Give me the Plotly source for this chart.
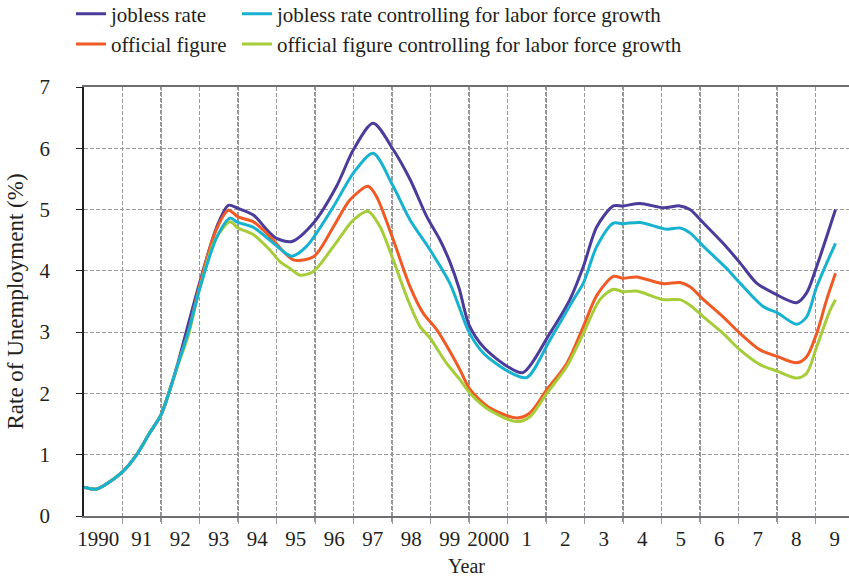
import plotly.graph_objects as go

# ---- data ----
years_labels = ["1990", "91", "92", "93", "94", "95", "96", "97", "98", "99",
                "2000", "1", "2", "3", "4", "5", "6", "7", "8", "9"]

jobless_x = [1990.0, 1990.33, 1991.0, 1991.37, 1991.7, 1992.0, 1992.23, 1992.45, 1992.67,
             1993.0, 1993.45, 1993.75, 1994.0, 1994.4, 1994.75, 1995.0, 1995.4, 1995.96,
             1996.56, 1997.0, 1997.51, 1998.03, 1998.47, 1998.9, 1999.25, 1999.5, 1999.75,
             2000.0, 2000.4, 2001.0, 2001.4, 2002.1, 2002.62, 2002.97, 2003.32, 2003.75,
             2004.0, 2004.44, 2005.05, 2005.48, 2005.74, 2006.09, 2006.6, 2007.04, 2007.47,
             2007.9, 2008.51, 2008.77, 2009.03, 2009.52]
jobless_y = [0.47, 0.44, 0.72, 1.0, 1.35, 1.65, 2.06, 2.52, 3.04,
             3.8, 4.72, 5.07, 5.02, 4.91, 4.67, 4.53, 4.48, 4.78,
             5.38, 5.98, 6.41, 5.98, 5.49, 4.89, 4.5, 4.15, 3.7,
             3.12, 2.74, 2.44, 2.34, 2.98, 3.53, 4.07, 4.72, 5.06,
             5.06, 5.1, 5.03, 5.06, 5.0, 4.78, 4.45, 4.13, 3.8,
             3.64, 3.48, 3.64, 4.07, 5.0]

jobless_ctrl_x = [1990.0, 1990.33, 1991.0, 1991.37, 1991.7, 1992.0, 1992.23, 1992.45, 1992.71,
                  1993.0, 1993.45, 1993.79, 1994.0, 1994.4, 1994.83, 1995.39, 1995.78, 1996.48,
                  1997.0, 1997.51, 1998.03, 1998.47, 1998.99, 1999.5, 1999.75, 2000.0, 2000.37,
                  2001.02, 2001.5, 2002.1, 2002.71, 2002.97, 2003.32, 2003.75, 2004.0, 2004.44,
                  2005.13, 2005.48, 2005.74, 2006.09, 2006.69, 2007.04, 2007.64, 2008.02,
                  2008.51, 2008.77, 2009.03, 2009.52]
jobless_ctrl_y = [0.47, 0.44, 0.72, 1.0, 1.35, 1.65, 2.06, 2.5, 3.0,
                  3.7, 4.55, 4.86, 4.79, 4.71, 4.5, 4.24, 4.4, 5.05,
                  5.6, 5.92, 5.38, 4.83, 4.34, 3.8, 3.4, 3.0, 2.66,
                  2.36, 2.26, 2.87, 3.53, 3.8, 4.4, 4.78, 4.77, 4.79,
                  4.68, 4.7, 4.62, 4.4, 4.04, 3.8, 3.42, 3.31,
                  3.13, 3.25, 3.74, 4.45]

official_x = [1990.0, 1990.33, 1991.0, 1991.37, 1991.7, 1992.0, 1992.23, 1992.45, 1992.71,
              1993.0, 1993.4, 1993.75, 1994.0, 1994.4, 1994.83, 1995.44, 1995.96, 1996.48,
              1996.91, 1997.38, 1997.6, 1998.03, 1998.47, 1998.81, 1999.16, 1999.51, 1999.77,
              2000.03, 2000.55, 2001.24, 2001.58, 2002.02, 2002.54, 2002.97, 2003.32, 2003.75,
              2004.0, 2004.35, 2005.05, 2005.48, 2005.74, 2006.09, 2006.6, 2007.04, 2007.56,
              2008.02, 2008.51, 2008.77, 2009.03, 2009.29, 2009.52]
official_y = [0.47, 0.44, 0.72, 1.0, 1.35, 1.65, 2.06, 2.5, 3.0,
              3.75, 4.62, 4.99, 4.88, 4.8, 4.56, 4.18, 4.23, 4.72,
              5.16, 5.38, 5.21, 4.51, 3.74, 3.31, 3.04, 2.68, 2.38,
              2.06, 1.76, 1.6, 1.68, 2.06, 2.49, 3.09, 3.6, 3.91,
              3.88, 3.9, 3.79, 3.81, 3.74, 3.53, 3.25, 2.98, 2.71,
              2.6, 2.5, 2.6, 2.98, 3.53, 3.96]

official_ctrl_x = [1990.0, 1990.33, 1991.0, 1991.37, 1991.7, 1992.0, 1992.23, 1992.45, 1992.71,
                   1993.0, 1993.4, 1993.79, 1994.0, 1994.4, 1994.83, 1995.09, 1995.35, 1995.61,
                   1995.96, 1996.48, 1997.0, 1997.38, 1997.69, 1998.03, 1998.38, 1998.73,
                   1998.99, 1999.42, 1999.77, 2000.03, 2000.55, 2001.24, 2001.58, 2002.02,
                   2002.54, 2002.97, 2003.4, 2003.75, 2004.0, 2004.35, 2005.05, 2005.48,
                   2005.74, 2006.09, 2006.6, 2007.04, 2007.56, 2008.02, 2008.51, 2008.77,
                   2009.03, 2009.38, 2009.52]
official_ctrl_y = [0.47, 0.44, 0.72, 1.0, 1.35, 1.65, 2.06, 2.48, 2.95,
                   3.7, 4.5, 4.8, 4.7, 4.59, 4.34, 4.15, 4.04, 3.93,
                   3.99, 4.4, 4.83, 4.97, 4.72, 4.18, 3.58, 3.09,
                   2.9, 2.49, 2.22, 2.0, 1.72, 1.54, 1.62, 2.0,
                   2.44, 2.98, 3.53, 3.7, 3.66, 3.67, 3.53, 3.53,
                   3.44, 3.25, 2.98, 2.71, 2.47, 2.36, 2.25, 2.33,
                   2.76, 3.36, 3.53]

y_ticks = [0, 1, 2, 3, 4, 5, 6, 7]

# ---- styling ----
FONT = "Liberation Serif"
TXT = "#231f20"
C_PURPLE = "#4b3b9a"
C_CYAN = "#16b2d0"
C_ORANGE = "#f05a24"
C_GREEN = "#a6cd39"
GRID_LIGHT = "#9a9a9a"
GRID_DARK = "#2a2627"

fig = go.Figure()

def add(x, y, name, color, legend, rank):
    fig.add_trace(go.Scatter(
        x=x, y=y, name=name, mode="lines",
        line=dict(color=color, width=3, shape="spline", smoothing=0.8),
        legend=legend, legendgroup=name, legendrank=rank,
        hoverinfo="skip",
    ))

add(jobless_x, jobless_y, "jobless rate", C_PURPLE, "legend", 1)
add(official_x, official_y, "official figure", C_ORANGE, "legend", 2)
add(official_ctrl_x, official_ctrl_y, "official figure controlling for labor force growth", C_GREEN, "legend2", 2)
add(jobless_ctrl_x, jobless_ctrl_y, "jobless rate controlling for labor force growth", C_CYAN, "legend2", 1)

grid_years = list(range(1991, 2010))
label_pos = [1990.5 + i for i in range(len(years_labels))]
label_pos[0] = 1990.37

# dark dashed gridlines at even years (drawn over the light ones)
for yr in grid_years:
    if yr % 2 == 0:
        fig.add_shape(type="line", xref="x", yref="paper", x0=yr, x1=yr, y0=-0.014, y1=1,
                      line=dict(color=GRID_DARK, width=1, dash="4px,2px"), layer="below")

legend_common = dict(
    font=dict(family=FONT, size=21, color=TXT),
    bgcolor="rgba(0,0,0,0)", orientation="v", traceorder="grouped",
    tracegroupgap=0, xanchor="left", yanchor="top", itemclick=False,
)

fig.update_layout(
    width=849, height=577,
    margin=dict(l=84, r=0, t=87, b=61, autoexpand=False),
    paper_bgcolor="white", plot_bgcolor="white",
    font=dict(family=FONT, size=21, color=TXT),
    showlegend=True,
    legend=dict(x=-0.017, y=1.218, **legend_common),
    legend2=dict(x=0.2, y=1.218, **legend_common),
    xaxis=dict(
        range=[1990, 2009.87],
        tickmode="array", tickvals=label_pos, ticktext=years_labels,
        ticks="", showgrid=False, zeroline=False, ticklabelstandoff=3,
        showline=True, linecolor="#6d6e71", linewidth=2, mirror=True,
        tickfont=dict(family=FONT, size=21, color=TXT),
        minor=dict(tickmode="array", tickvals=grid_years, ticks="outside", ticklen=6,
                   tickcolor=GRID_LIGHT, tickwidth=1, showgrid=True,
                   gridcolor=GRID_LIGHT, gridwidth=1, griddash="4px,2px"),
        title=dict(text="Year", font=dict(family=FONT, size=20, color=TXT), standoff=9),
        automargin=False, fixedrange=True,
    ),
    yaxis=dict(
        range=[0, 7], tickmode="array", tickvals=y_ticks,
        ticks="outside", ticklen=6, tickcolor=TXT, tickwidth=1,
        showgrid=True, gridcolor=GRID_LIGHT, gridwidth=1, griddash="4px,2px",
        zeroline=False, showline=True, linecolor=TXT, linewidth=1.5,
        ticklabelstandoff=22,
        tickfont=dict(family=FONT, size=21, color=TXT),
        title=dict(text="Rate of Unemployment (%)", font=dict(family=FONT, size=23, color=TXT), standoff=9),
        automargin=False, fixedrange=True,
    ),
)

fig.write_html("out.html", config={"displayModeBar": False},
               post_script="document.body.style.margin='0';document.body.style.overflow='hidden';")
